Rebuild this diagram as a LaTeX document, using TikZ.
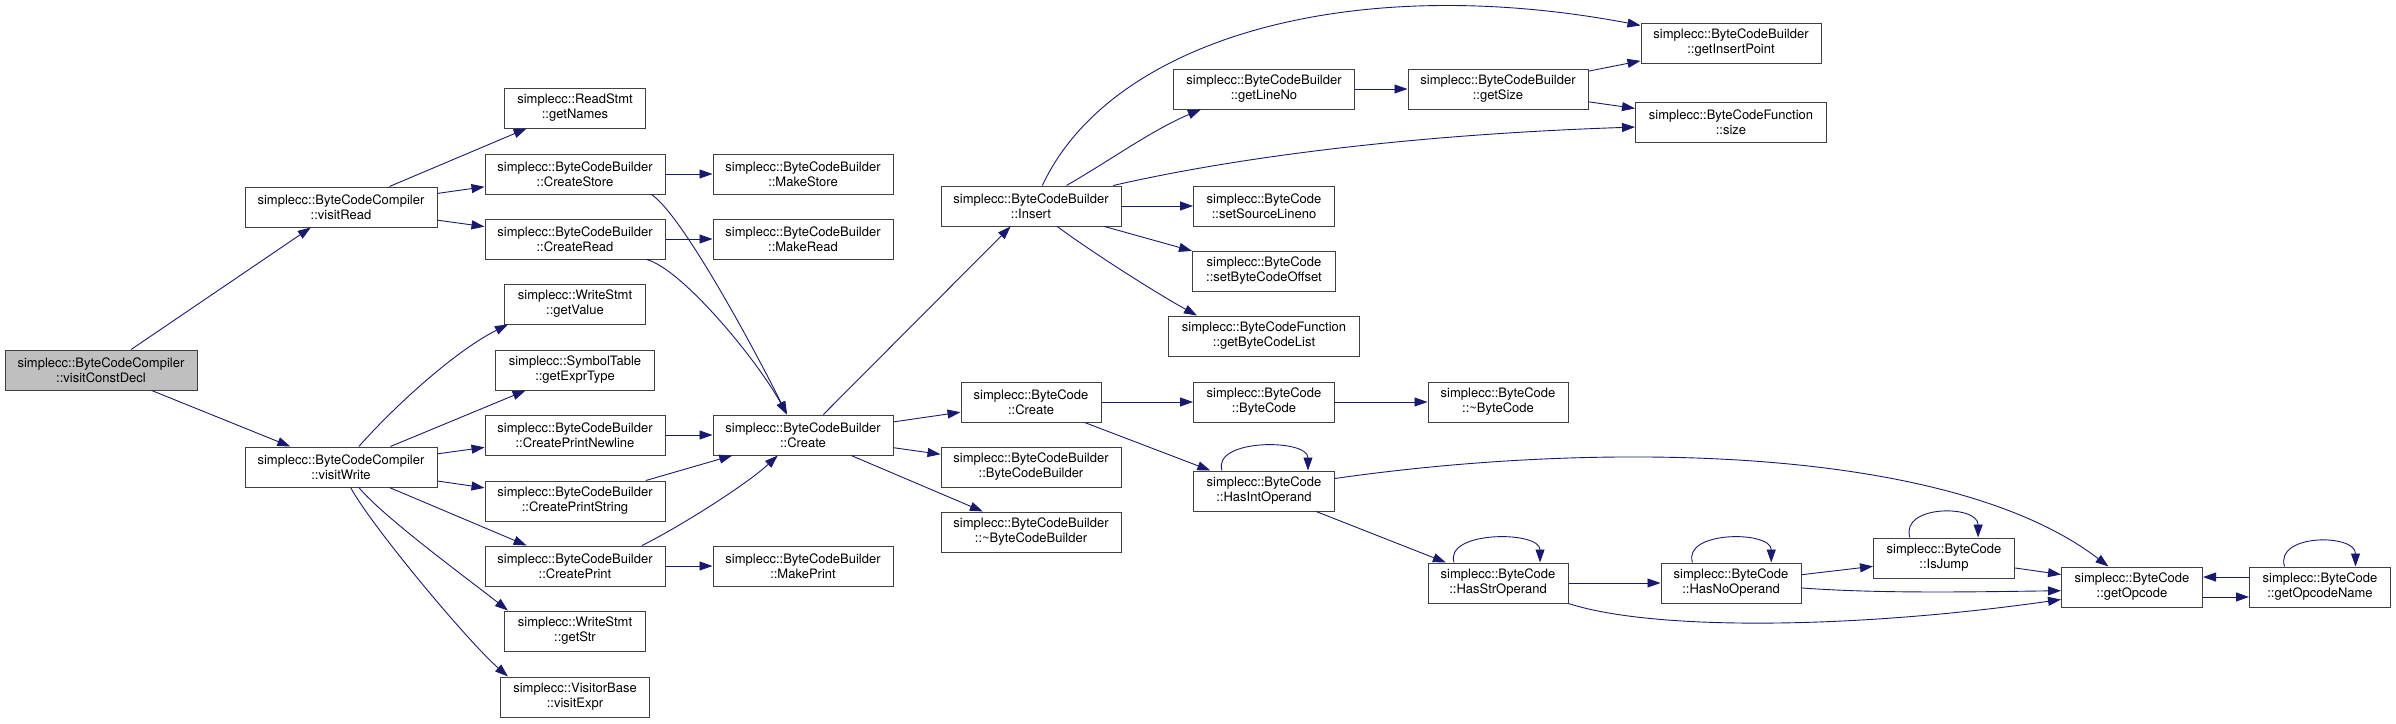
\documentclass[tikz,border=0pt]{standalone}
\usepackage{fontspec}
\setmainfont{TeX Gyre Heros}
\usetikzlibrary{arrows.meta}
\definecolor{callblue}{HTML}{191970}
\definecolor{boxedge}{HTML}{404040}
\definecolor{rootgray}{HTML}{BFBFBF}

\begin{document}
\begin{tikzpicture}[x=1pt, y=-1pt,
      fn/.style={draw=boxedge, fill=white, line width=1pt, align=center,
                 minimum height=40pt, minimum width=#1, inner xsep=4pt, inner ysep=2pt,
                 font=\fontsize{13}{15}\selectfont},
      fn/.default=180pt,
      root/.style={fn=192pt, fill=rootgray},
      arr/.style={-{Triangle[length=13pt, width=9pt]}, callblue, line width=0.9pt}]
    \useasboundingbox (0,0) rectangle (2396,723);

    \node[root] (cd) at (101,370) {simplecc::ByteCodeCompiler\\::visitConstDecl};
    \node[fn=192pt] (vread) at (341,207) {simplecc::ByteCodeCompiler\\::visitRead};
    \node[fn=192pt] (vwrite) at (341,467) {simplecc::ByteCodeCompiler\\::visitWrite};

    \node[fn=141pt] (rdnames) at (575,108) {simplecc::ReadStmt\\::getNames};
    \node[fn] (cstore) at (575,174) {simplecc::ByteCodeBuilder\\::CreateStore};
    \node[fn] (cread) at (575,239) {simplecc::ByteCodeBuilder\\::CreateRead};
    \node[fn=141pt] (wvalue) at (575,304) {simplecc::WriteStmt\\::getValue};
    \node[fn=159pt] (exprtype) at (575,370) {simplecc::SymbolTable\\::getExprType};
    \node[fn] (cnewline) at (575,435) {simplecc::ByteCodeBuilder\\::CreatePrintNewline};
    \node[fn] (cpstring) at (575,501) {simplecc::ByteCodeBuilder\\::CreatePrintString};
    \node[fn] (cprint) at (575,566) {simplecc::ByteCodeBuilder\\::CreatePrint};
    \node[fn=141pt] (wstr) at (575,631) {simplecc::WriteStmt\\::getStr};
    \node[fn=149pt] (vexpr) at (575,697) {simplecc::VisitorBase\\::visitExpr};

    \node[fn] (mstore) at (803,174) {simplecc::ByteCodeBuilder\\::MakeStore};
    \node[fn] (mread) at (803,239) {simplecc::ByteCodeBuilder\\::MakeRead};
    \node[fn] (bcreate) at (803,435) {simplecc::ByteCodeBuilder\\::Create};
    \node[fn] (mprint) at (803,566) {simplecc::ByteCodeBuilder\\::MakePrint};

    \node[fn] (insert) at (1031,206) {simplecc::ByteCodeBuilder\\::Insert};
    \node[fn=140pt] (bccreate) at (1031,402) {simplecc::ByteCode\\::Create};
    \node[fn] (bcbctor) at (1031,467) {simplecc::ByteCodeBuilder\\::ByteCodeBuilder};
    \node[fn] (bcbdtor) at (1031,532) {simplecc::ByteCodeBuilder\\::\textasciitilde ByteCodeBuilder};

    \node[fn=181pt] (lineno) at (1264,89) {simplecc::ByteCodeBuilder\\::getLineNo};
    \node[fn=141pt] (srcline) at (1264,206) {simplecc::ByteCode\\::setSourceLineno};
    \node[fn=143pt] (bcoffset) at (1264,271) {simplecc::ByteCode\\::setByteCodeOffset};
    \node[fn=191pt] (bclist) at (1264,336) {simplecc::ByteCodeFunction\\::getByteCodeList};
    \node[fn=141pt] (bcctor) at (1264,402) {simplecc::ByteCode\\::ByteCode};
    \node[fn=141pt] (hasint) at (1264,491) {simplecc::ByteCode\\::HasIntOperand};

    \node[fn] (getsize) at (1498,89) {simplecc::ByteCodeBuilder\\::getSize};
    \node[fn=140pt] (bcdtor) at (1498,402) {simplecc::ByteCode\\::\textasciitilde ByteCode};
    \node[fn=140pt] (hasstr) at (1498,583) {simplecc::ByteCode\\::HasStrOperand};

    \node[fn] (inspoint) at (1731,43) {simplecc::ByteCodeBuilder\\::getInsertPoint};
    \node[fn=191pt] (fsize) at (1731,122) {simplecc::ByteCodeFunction\\::size};
    \node[fn=140pt] (hasno) at (1731,583) {simplecc::ByteCode\\::HasNoOperand};

    \node[fn=141pt] (isjump) at (1944,558) {simplecc::ByteCode\\::IsJump};
    \node[fn=141pt] (opcode) at (2132,587) {simplecc::ByteCode\\::getOpcode};
    \node[fn=141pt] (opname) at (2320,587) {simplecc::ByteCode\\::getOpcodeName};

    \draw[arr] (cd) -- (vread); \draw[arr] (cd) -- (vwrite);
    \draw[arr] (vread) -- (rdnames); \draw[arr] (vread) -- (cstore); \draw[arr] (vread) -- (cread);
    \draw[arr] (cstore) -- (mstore); \draw[arr] (cread) -- (mread);
    \draw[arr] (cstore.-15.5) .. controls +(30,20) and +(-35,-70) .. (bcreate.128.7);
    \draw[arr] (cread.-16) .. controls +(35,9) and +(-30,-55) .. (bcreate.128.7);

    \draw[arr] (vwrite.49.6) .. controls +(40,-45) and +(-50,25) .. (wvalue.197);
    \draw[arr] (vwrite) -- (exprtype);
    \draw[arr] (vwrite) -- (cnewline); \draw[arr] (vwrite) -- (cpstring); \draw[arr] (vwrite) -- (cprint);
    \draw[arr] (vwrite.-49.6) .. controls +(25,30) and +(-38,-30) .. (wstr.163);
    \draw[arr] (vwrite.-65.8) .. controls +(22,40) and +(-40,-35) .. (vexpr.163);

    \draw[arr] (cnewline) -- (bcreate); \draw[arr] (cpstring) -- (bcreate);
    \draw[arr] (cprint.17.4) .. controls +(40,-20) and +(-30,28) .. (bcreate.219.8);
    \draw[arr] (cprint) -- (mprint);

    \draw[arr] (bcreate) -- (insert); \draw[arr] (bcreate) -- (bccreate);
    \draw[arr] (bcreate) -- (bcbctor); \draw[arr] (bcreate) -- (bcbdtor);

    \draw[arr] (insert.61) .. controls +(68,-146) and +(-291,-55) .. (inspoint.169);
    \draw[arr] (insert.30.5) .. controls +(45,-26) and +(-48,20) .. (lineno.198.7);
    \draw[arr] (insert.14.7) .. controls +(113,-26) and +(-236,8) .. (fsize.183);
    \draw[arr] (insert) -- (srcline); \draw[arr] (insert) -- (bcoffset);
    \draw[arr] (insert.-38.7) .. controls +(35,26) and +(-40,-22) .. (bclist.163.8);
    \draw[arr] (lineno) -- (getsize); \draw[arr] (getsize) -- (inspoint); \draw[arr] (getsize) -- (fsize);

    \draw[arr] (bccreate) -- (bcctor); \draw[arr] (bccreate) -- (hasint); \draw[arr] (bcctor) -- (bcdtor);
    \draw[arr] (hasint.154.5) .. controls +(-10,-32) and +(0,-32) .. (hasint.25.5);
    \draw[arr] (hasint.10.4) .. controls +(265,-38) and +(-159,-122) .. (opcode.139);
    \draw[arr] (hasint) -- (hasstr);
    \draw[arr] (hasstr.155) .. controls +(-10,-32) and +(0,-32) .. (hasstr.26.6);
    \draw[arr] (hasstr) -- (hasno);
    \draw[arr] (hasstr.south east) .. controls +(83,27) and +(-212,30) .. (opcode.190.5);
    \draw[arr] (hasno.152.9) .. controls +(-10,-32) and +(0,-32) .. (hasno.27.8);
    \draw[arr] (hasno) -- (isjump);
    \draw[arr] (hasno.-4.1) .. controls +(80,6) and +(-80,1) .. (opcode.183.2);
    \draw[arr] (isjump.149.5) .. controls +(-10,-33) and +(0,-33) .. (isjump.31.2);
    \draw[arr] (isjump.-8.8) -- (opcode.170.3);
    \draw[arr] (opcode.352.7) -- (opcode.352.7 -| opname.west);
    \draw[arr] (opname.172.7) -- (opname.172.7 -| opcode.east);
    \draw[arr] (opname.150.3) .. controls +(-10,-33) and +(0,-33) .. (opname.30.5);
  \end{tikzpicture}
\end{document}
